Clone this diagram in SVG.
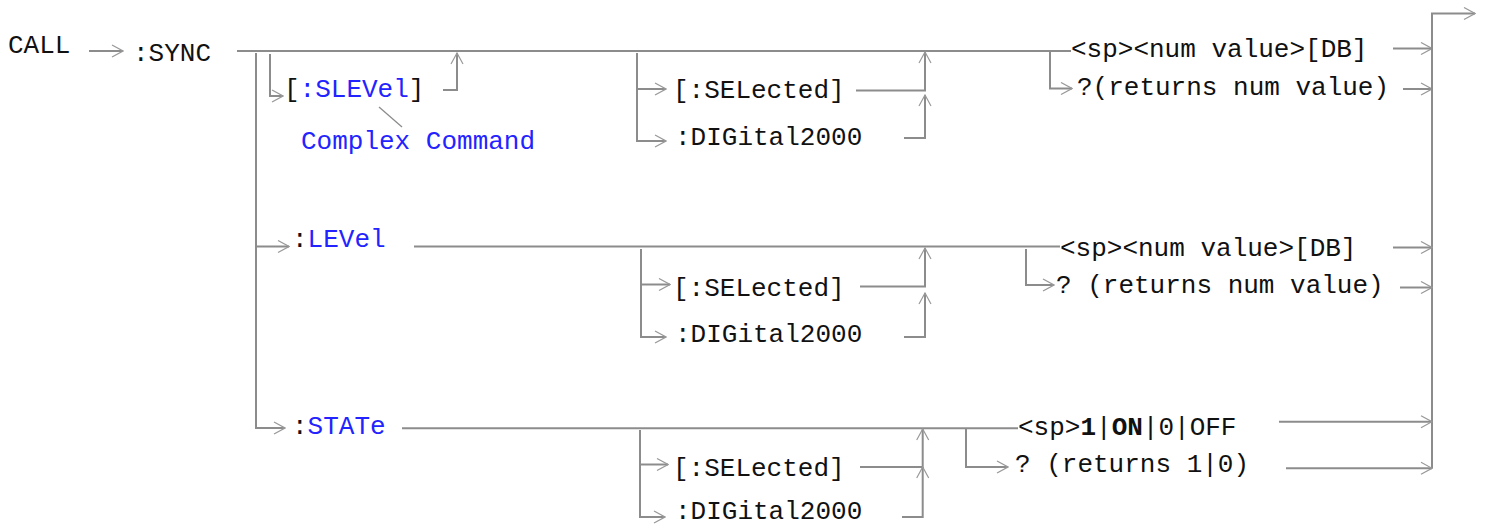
<svg xmlns="http://www.w3.org/2000/svg" width="1486" height="525" viewBox="0 0 1486 525">
<style>
text{font-family:"Liberation Mono","Courier New",monospace;font-size:26px;fill:#111}
.b{fill:#2323ff}
.bold{font-weight:bold}
.ln{fill:none;stroke:#8c8c8c;stroke-width:2}
.ar{marker-end:url(#ah)}
.lead{fill:none;stroke:#8c8c8c;stroke-width:1.3}
</style>
<defs>
<marker id="ah" viewBox="-12 -7 13 14" refX="0" refY="0" markerWidth="13" markerHeight="14" markerUnits="userSpaceOnUse" orient="auto">
<path d="M-11,-6 L0,0 L-11,6" fill="none" stroke="#999" stroke-width="1.2"/>
</marker>
</defs>
<rect width="1486" height="525" fill="#fff"/>
<g id="connectors">
<path class="ln ar" d="M89,51 H123"/>
<path class="ln" d="M237,51 H1071"/>
<path class="ln ar" d="M256,53 V428 H285"/>
<path class="ln ar" d="M256,246.5 H289"/>
<path class="ln ar" d="M270,54 V96 H283"/>
<path class="ln ar" d="M443,90 H457 V53"/>
<path class="lead" d="M379,107 L402,127"/>
<path class="ln ar" d="M637,53 V141 H666"/>
<path class="ln ar" d="M637,89 H666"/>
<path class="ln ar" d="M856,90.5 H925 V52"/>
<path class="ln ar" d="M904,138 H925 V95"/>
<path class="ln ar" d="M1050,51 V88.5 H1072"/>
<path class="ln ar" d="M1393,48.5 H1432"/>
<path class="ln ar" d="M1403,89 H1432"/>
<path class="ln ar" d="M1432,468.5 V13.5 H1475"/>
<path class="ln" d="M414,246.5 H1060"/>
<path class="ln ar" d="M641,249 V337 H666"/>
<path class="ln ar" d="M641,284.5 H670"/>
<path class="ln ar" d="M860,286.5 H925 V248"/>
<path class="ln ar" d="M904,337 H925 V293"/>
<path class="ln ar" d="M1026,249 V285 H1054"/>
<path class="ln ar" d="M1393,247.5 H1432"/>
<path class="ln ar" d="M1400,287.5 H1432"/>
<path class="ln" d="M402,428.3 H1018"/>
<path class="ln ar" d="M640,430 V517 H665"/>
<path class="ln ar" d="M640,464.5 H668"/>
<path class="ln ar" d="M860,467 H922.7 V429"/>
<path class="ln ar" d="M902,517 H922.7 V467"/>
<path class="ln ar" d="M966,428.3 V467 H1008"/>
<path class="ln ar" d="M1279,421.7 H1432"/>
<path class="ln ar" d="M1286,468.3 H1432"/>
</g>
<g id="n-call"><text x="8" y="53">CALL</text></g>
<g id="n-sync"><text x="133" y="61">:SYNC</text></g>
<g id="n-slevel"><text x="284" y="97">[<tspan class="b">:SLEVel</tspan>]</text></g>
<g id="n-complex"><text class="b" x="301" y="149">Complex Command</text></g>
<g id="n-sel1"><text x="673" y="98">[:SELected]</text></g>
<g id="n-dig1"><text x="675" y="145">:DIGital2000</text></g>
<g id="n-val1"><text x="1071" y="57">&lt;sp&gt;&lt;num value&gt;[DB]</text></g>
<g id="n-q1"><text x="1077" y="95">?(returns num value)</text></g>
<g id="n-level"><text x="292" y="247">:<tspan class="b">LEVel</tspan></text></g>
<g id="n-sel2"><text x="673" y="296">[:SELected]</text></g>
<g id="n-dig2"><text x="675" y="342">:DIGital2000</text></g>
<g id="n-val2"><text x="1060" y="256">&lt;sp&gt;&lt;num value&gt;[DB]</text></g>
<g id="n-q2"><text x="1056" y="293">? (returns num value)</text></g>
<g id="n-state"><text x="292" y="434">:<tspan class="b">STATe</tspan></text></g>
<g id="n-sel3"><text x="673" y="476">[:SELected]</text></g>
<g id="n-dig3"><text x="675" y="519">:DIGital2000</text></g>
<g id="n-val3"><text x="1018" y="435">&lt;sp&gt;<tspan class="bold">1</tspan>|<tspan class="bold">ON</tspan>|0|OFF</text></g>
<g id="n-q3"><text x="1015" y="472">? (returns 1|0)</text></g>
</svg>
